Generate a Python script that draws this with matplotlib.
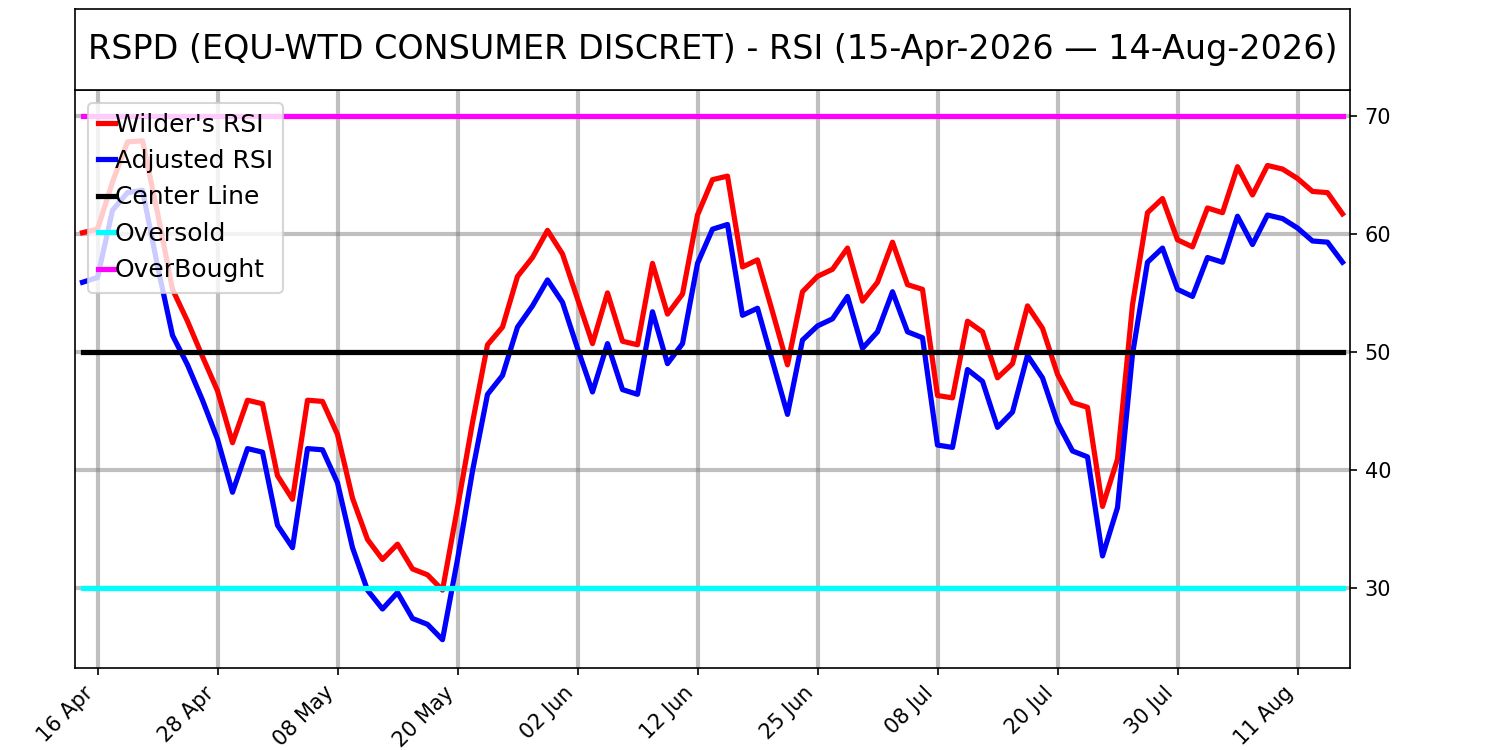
import matplotlib
matplotlib.use("Agg")
import matplotlib.pyplot as plt
import numpy as np
import pandas as pd

title = "RSPD (EQU-WTD CONSUMER DISCRET) - RSI (15-Apr-2026 \u2014 14-Aug-2026)"

wilder_rsi = [60.1, 60.4, 64.4, 67.8, 67.9, 61.8, 55.3, 52.6, 49.6, 46.7,
              42.3, 45.9, 45.6, 39.5, 37.5, 45.9, 45.8, 43.0, 37.6, 34.1,
              32.4, 33.7, 31.6, 31.1, 29.8, 36.8, 44.0, 50.6, 52.1, 56.4,
              58.0, 60.3, 58.3, 54.5, 50.7, 55.0, 50.9, 50.6, 57.5, 53.2,
              54.9, 61.6, 64.6, 64.9, 57.2, 57.8, 53.4, 48.9, 55.1, 56.4,
              57.0, 58.8, 54.3, 55.9, 59.3, 55.7, 55.3, 46.3, 46.1, 52.6,
              51.7, 47.8, 49.0, 53.9, 52.0, 48.1, 45.7, 45.3, 36.9, 40.9,
              54.0, 61.8, 63.0, 59.5, 58.9, 62.2, 61.8, 65.7, 63.3, 65.8,
              65.5, 64.7, 63.6, 63.5, 61.7]

adjusted_rsi = [55.9, 56.3, 62.0, 63.5, 63.7, 57.3, 51.4, 48.9, 45.9, 42.6,
                38.1, 41.8, 41.5, 35.3, 33.4, 41.8, 41.7, 38.9, 33.4, 29.8,
                28.2, 29.6, 27.4, 26.9, 25.6, 32.4, 39.9, 46.4, 48.0, 52.1,
                53.9, 56.1, 54.2, 50.3, 46.6, 50.7, 46.8, 46.4, 53.4, 49.0,
                50.7, 57.5, 60.4, 60.8, 53.1, 53.7, 49.2, 44.7, 51.0, 52.2,
                52.8, 54.7, 50.3, 51.7, 55.1, 51.7, 51.2, 42.1, 41.9, 48.5,
                47.5, 43.6, 44.9, 49.7, 47.8, 44.0, 41.6, 41.1, 32.7, 36.8,
                49.8, 57.6, 58.8, 55.3, 54.7, 58.0, 57.6, 61.5, 59.1, 61.6,
                61.3, 60.5, 59.4, 59.3, 57.6]

center_level = 50
oversold_level = 30
overbought_level = 70

# Trading days (US holidays removed)
holidays = pd.to_datetime(["2026-05-25", "2026-06-19", "2026-07-03"])
dates = pd.bdate_range("2026-04-15", "2026-08-14")
dates = dates[~dates.isin(holidays)]
n = len(wilder_rsi)
x = np.arange(n)
tick_idx = list(range(1, n, 8))
tick_labels = [dates[i].strftime("%d %b") for i in tick_idx]

fig = plt.figure(figsize=(10, 5), dpi=150)
ax = fig.add_axes([0.05, 0.10933, 0.85, 0.77067])
tax = fig.add_axes([0.05, 0.88, 0.85, 0.108])
tax.set_xticks([])
tax.set_yticks([])
tax.text(0.5, 0.5, title, ha="center", va="center", fontsize=16,
         transform=tax.transAxes)

lw = 2.5
ax.plot(x, wilder_rsi, color="red", lw=lw, label="Wilder's RSI")
ax.plot(x, adjusted_rsi, color="blue", lw=lw, label="Adjusted RSI")
ax.plot(x, [center_level] * n, color="black", lw=lw, label="Center Line")
ax.plot(x, [oversold_level] * n, color="cyan", lw=lw, label="Oversold")
ax.plot(x, [overbought_level] * n, color="magenta", lw=lw, label="OverBought")

ax.set_xlim(-0.5, n - 0.5)
ax.set_ylim(23.2, 72.2)
ax.set_yticks([30, 40, 50, 60, 70])
ax.yaxis.tick_right()
ax.set_xticks(tick_idx)
ax.set_xticklabels(tick_labels, rotation=45, ha="right")
ax.grid(True, color="gray", alpha=0.5, lw=2)
ax.set_axisbelow(True)

ax.legend(loc="upper left", fontsize=12, handlelength=0.7,
          handletextpad=0.0, borderaxespad=0.5, labelspacing=0.5)

fig.savefig("out.png", dpi=150)
